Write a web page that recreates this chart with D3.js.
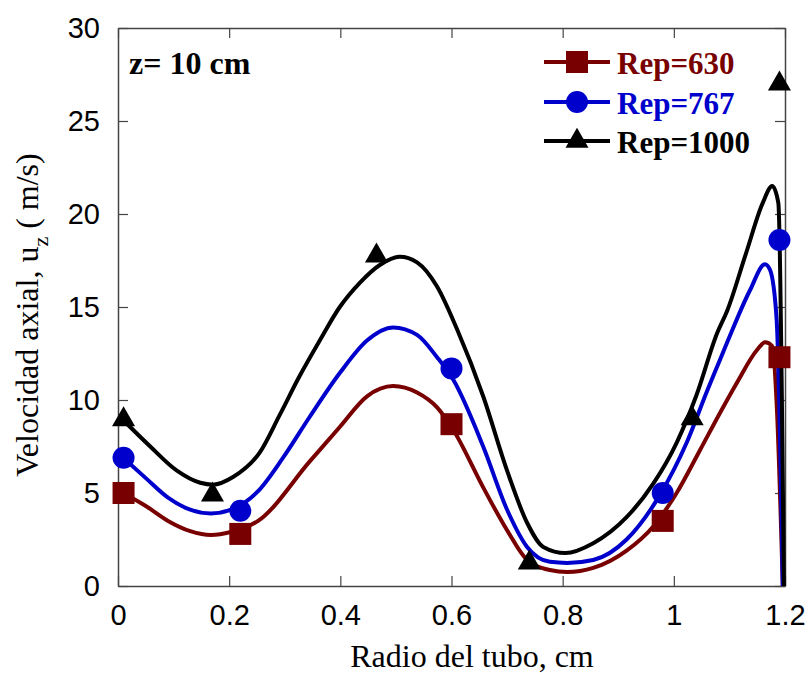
<!DOCTYPE html>
<html>
<head>
<meta charset="utf-8">
<script src="https://cdn.jsdelivr.net/npm/d3@7"></script>
<style>
  body { margin: 0; background: #fff; }
  svg { display: block; }
</style>
</head>
<body>
<svg id="chart" width="808" height="673"></svg>
<script>
// ticks
const xTicks = [0, 0.2, 0.4, 0.6, 0.8, 1, 1.2];
const yTicks = [0, 5, 10, 15, 20, 25, 30];

// series names
const seriesNames = ["Rep=630", "Rep=767", "Rep=1000"];

// measured points (markers)
const pts630 = [[0.01, 5.0], [0.22, 2.8], [0.6, 8.7], [0.98, 3.5], [1.19, 12.3]];
const pts767 = [[0.01, 6.9], [0.22, 4.05], [0.6, 11.7], [0.98, 5.0], [1.19, 18.6]];
const pts1000 = [[0.01, 8.95], [0.17, 4.9], [0.465, 17.75], [0.74, 1.25], [1.033, 9.0], [1.19, 27.0]];

// fitted curves
const curve630 = [
  [0.009, 5.0], [0.05, 4.3], [0.09, 3.5], [0.13, 2.95], [0.167, 2.74], [0.203, 2.9], [0.252, 3.5],
  [0.345, 6.7], [0.399, 8.55], [0.448, 10.2], [0.495, 10.75], [0.538, 10.4],
  [0.574, 9.6], [0.603, 8.4], [0.657, 5.3], [0.70, 3.0], [0.736, 1.4], [0.777, 0.86],
  [0.808, 0.75], [0.855, 0.97], [0.915, 1.9], [0.963, 3.2], [1.005, 5.0], [1.047, 7.3],
  [1.083, 9.3], [1.113, 10.9], [1.15, 12.7], [1.164, 13.1], [1.177, 12.9], [1.185, 9.8],
  [1.196, 0]
];
const curve767 = [
  [0.009, 6.9], [0.05, 5.8], [0.09, 4.75], [0.13, 4.1], [0.167, 3.9], [0.203, 4.1], [0.252, 5.1],
  [0.297, 6.9], [0.345, 9.1], [0.399, 11.45], [0.448, 13.2], [0.495, 13.9], [0.538, 13.5],
  [0.574, 12.3], [0.603, 11.1], [0.657, 7.5], [0.70, 4.1], [0.736, 2.1], [0.777, 1.3],
  [0.808, 1.24], [0.855, 1.4], [0.915, 2.5], [0.975, 4.9], [1.023, 7.7], [1.06, 10.5],
  [1.078, 11.8], [1.096, 13.1], [1.137, 15.9], [1.164, 17.3], [1.173, 17.0], [1.185, 14.3],
  [1.196, 0]
];
const curve1000 = [
  [0.01, 8.9], [0.058, 7.5], [0.106, 6.2], [0.148, 5.55], [0.171, 5.45], [0.207, 5.86],
  [0.2555, 7.2], [0.291, 9.2], [0.327, 11.3], [0.363, 13.2], [0.399, 15.0], [0.435, 16.3],
  [0.471, 17.26], [0.507, 17.7], [0.538, 17.4], [0.574, 16.1], [0.61, 13.8], [0.657, 10.2],
  [0.70, 6.2], [0.736, 3.4], [0.765, 2.1], [0.805, 1.77], [0.855, 2.3], [0.915, 3.7],
  [0.963, 5.5], [1.005, 7.7], [1.04, 10.2], [1.078, 13.6], [1.096, 14.8], [1.13, 17.9],
  [1.16, 20.6], [1.177, 21.5], [1.188, 20.6], [1.198, 0]
];

const colors = ["#780000", "#0000cc", "#000000"];

const svg = d3.select("#chart");
const mLeft = 118, mRight = 785, mTop = 28, mBottom = 586;

const x = d3.scaleLinear().domain([0, 1.2]).range([mLeft, mRight]);
const y = d3.scaleLinear().domain([0, 30]).range([mBottom, mTop]);

// frame and ticks
const axisColor = "#444";
const tickFont = "Liberation Sans, Arial, sans-serif";

svg.append("g")
  .attr("transform", `translate(0,${mBottom})`)
  .call(d3.axisBottom(x).tickValues(xTicks).tickSize(-10).tickSizeOuter(0).tickPadding(18)
    .tickFormat(d => d3.format("")(+d.toFixed(1))))
  .call(g => g.selectAll("text").attr("font-size", 29).attr("font-family", tickFont).attr("fill", "#000"));
svg.append("g")
  .attr("transform", `translate(0,${mTop})`)
  .call(d3.axisTop(x).tickValues(xTicks).tickSize(-10).tickSizeOuter(0).tickFormat(""));
svg.append("g")
  .attr("transform", `translate(${mLeft},0)`)
  .call(d3.axisLeft(y).tickValues(yTicks).tickSize(-10).tickSizeOuter(0).tickPadding(18))
  .call(g => g.selectAll("text").attr("font-size", 29).attr("font-family", tickFont).attr("fill", "#000").attr("dy", "0.34em"));
svg.append("g")
  .attr("transform", `translate(${mRight},0)`)
  .call(d3.axisRight(y).tickValues(yTicks).tickSize(-10).tickSizeOuter(0).tickFormat(""));

svg.selectAll(".domain").attr("stroke", axisColor).attr("stroke-width", 1.5);
svg.selectAll(".tick line").attr("stroke", axisColor).attr("stroke-width", 1.2);

// curves
const line = d3.line().x(d => x(d[0])).y(d => y(d[1])).curve(d3.curveMonotoneX);
[curve630, curve767, curve1000].forEach((c, i) => {
  svg.append("path")
    .datum(c)
    .attr("fill", "none")
    .attr("stroke", colors[i])
    .attr("stroke-width", 4)
    .attr("stroke-linejoin", "round")
    .attr("d", line);
});

// markers
function drawMarker(g, kind, cx, cy, color) {
  if (kind === 0) {
    g.append("rect").attr("x", cx - 11).attr("y", cy - 11).attr("width", 22).attr("height", 22).attr("fill", color);
  } else if (kind === 1) {
    g.append("circle").attr("cx", cx).attr("cy", cy).attr("r", 11).attr("fill", color);
  } else {
    g.append("path").attr("d", d3.symbol(d3.symbolTriangle, 230)())
      .attr("transform", `translate(${cx},${cy})`).attr("fill", color);
  }
}
const markers = svg.append("g");
[pts630, pts767, pts1000].forEach((pts, i) => {
  pts.forEach(p => drawMarker(markers, i, x(p[0]), y(p[1]), colors[i]));
});

// annotation
svg.append("text")
  .attr("x", 129).attr("y", 74)
  .attr("font-family", "Liberation Serif, Times New Roman, serif")
  .attr("font-weight", "bold").attr("font-size", 32)
  .text("z= 10 cm");

// legend
const legY = [62, 102, 141];
seriesNames.forEach((name, i) => {
  svg.append("line")
    .attr("x1", 544).attr("x2", 610).attr("y1", legY[i]).attr("y2", legY[i])
    .attr("stroke", colors[i]).attr("stroke-width", 4);
  drawMarker(svg, i, 577, legY[i], colors[i]);
  svg.append("text")
    .attr("x", 617).attr("y", legY[i] + 12)
    .attr("font-family", "Liberation Serif, Times New Roman, serif")
    .attr("font-weight", "bold").attr("font-size", 31)
    .attr("fill", colors[i])
    .text(name);
});

// axis titles
svg.append("text")
  .attr("x", 472).attr("y", 667)
  .attr("text-anchor", "middle")
  .attr("font-family", "Liberation Serif, Times New Roman, serif")
  .attr("font-size", 32)
  .text("Radio del tubo, cm");

const yt = svg.append("text")
  .attr("transform", "translate(38,315) rotate(-90)")
  .attr("text-anchor", "middle")
  .attr("font-family", "Liberation Serif, Times New Roman, serif")
  .attr("font-size", 32);
yt.append("tspan").text("Velocidad axial, u");
yt.append("tspan").attr("font-size", 22).attr("dy", 10).text("z");
yt.append("tspan").attr("dy", -10).text(" ( m/s)");
</script>
</body>
</html>
